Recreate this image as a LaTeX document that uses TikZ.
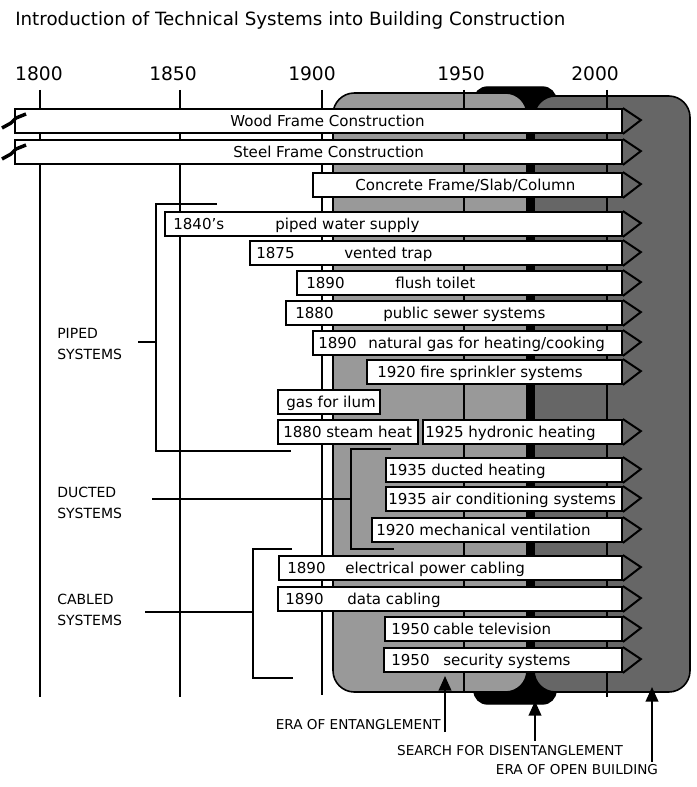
\documentclass[tikz,border=0pt]{standalone}
\usepackage{fontspec}
\setmainfont{DejaVu Sans}
\usetikzlibrary{arrows.meta}
\definecolor{lgrey}{RGB}{153,153,153}
\definecolor{dgrey}{RGB}{102,102,102}
\newcommand\tbar[4]{\node[tbar, minimum width={(#3-#2)*0.75pt}] (#1) at (#2,#4) {};}
\newcommand\tchev[1]{\draw[chev] (#1.north east) -- ++(18,12) -- (#1.south east);}
\newcommand\breakmark[1]{\draw[line width=2.6pt] (2,#1+7) -- (11,#1+2) -- (16,#1-3) -- (26,#1-7);}
\begin{document}
\begin{tikzpicture}[x=0.75pt,y=-0.75pt,
  tbar/.style={draw=black,fill=white,line width=1.4pt,rectangle,inner sep=0pt,minimum height=18pt,anchor=west},
  chev/.style={draw=black,line width=1.5pt,line join=miter},
  btxt/.style={anchor=west,inner sep=0pt,font=\fontsize{11.3}{13}\selectfont,text height=8.2pt,text depth=0pt},
  ylab/.style={font=\fontsize{14}{16}\selectfont,inner sep=0pt},
  grid/.style={line width=2pt},
  brack/.style={line width=1.4pt},
  slab/.style={anchor=west,align=left,inner sep=0pt,font=\fontsize{10.5}{16}\selectfont},
  blab/.style={inner sep=0pt,font=\fontsize{10.2}{12}\selectfont},
  earrow/.style={line width=1.4pt,-{Triangle[length=11pt,width=9.5pt]}}]
\useasboundingbox (0,0) rectangle (696,787);
% title
\node[anchor=base west,inner sep=0pt,font=\fontsize{13.7}{16}\selectfont] (title) at (15,26) {Introduction of Technical Systems into Building Construction};
% backgrounds
\draw[fill=black,line width=1pt,rounded corners=10pt] (474,87) rectangle (556,704);
\draw[fill=lgrey,line width=1.2pt,rounded corners=16pt] (333,93) rectangle (527,692);
\draw[fill=dgrey,line width=1.2pt,rounded corners=16pt] (534,96) rectangle (690,692);
% year labels and grid
\node[ylab] (y1800) at (39,74) {1800};
\node[ylab] (y1850) at (173,74) {1850};
\node[ylab] (y1900) at (312,74) {1900};
\node[ylab] (y1950) at (461,74) {1950};
\node[ylab] (y2000) at (595,74) {2000};
\draw[grid] (40,90) -- (40,697);
\draw[grid] (180,90) -- (180,697);
\draw[grid] (322,90) -- (322,695);
\draw[grid] (464,90) -- (464,693);
\draw[grid] (607,90) -- (607,697);
% brackets
\draw[brack] (217,204) -| (156,451) -- (291,451);
\draw[brack] (138,342) -- (156,342);
\draw[brack] (391,449) -| (351,549) -- (394,549);
\draw[brack] (152,499) -- (351,499);
\draw[brack] (292,549) -| (253,678) -- (293,678);
\draw[brack] (145,612) -- (253,612);
% side labels
\node[slab] (piped) at (57,344) {PIPED\\SYSTEMS};
\node[slab] (ducted) at (57,503) {DUCTED\\SYSTEMS};
\node[slab] (cabled) at (57,610) {CABLED\\SYSTEMS};
% bars
\tbar{wood}{14}{621}{121}\tchev{wood}
\tbar{steel}{14}{621}{152}\tchev{steel}
\tbar{concrete}{312}{621}{185}\tchev{concrete}
\tbar{water}{164}{621}{224}\tchev{water}
\tbar{trap}{249}{621}{253}\tchev{trap}
\tbar{toilet}{296}{621}{283}\tchev{toilet}
\tbar{sewer}{285}{621}{313}\tchev{sewer}
\tbar{gas}{312}{621}{343}\tchev{gas}
\tbar{sprink}{366}{621}{372}\tchev{sprink}
\tbar{ilum}{277}{379}{402}
\tbar{steam}{277}{417}{432}
\tbar{hydro}{422}{621}{432}\tchev{hydro}
\tbar{duct}{385}{621}{470}\tchev{duct}
\tbar{aircon}{385}{621}{499}\tchev{aircon}
\tbar{mech}{371}{621}{530}\tchev{mech}
\tbar{elec}{278}{621}{568}\tchev{elec}
\tbar{data}{277}{621}{599}\tchev{data}
\tbar{ctv}{384}{621}{629}\tchev{ctv}
\tbar{sec}{383}{621}{660}\tchev{sec}
\breakmark{121}
\breakmark{152}
% bar texts
\node[btxt] (t-wood) at (230,121) {Wood Frame Construction};
\node[btxt] (t-steel) at (233,152) {Steel Frame Construction};
\node[btxt] (t-conc) at (355,185) {Concrete Frame/Slab/Column};
\node[btxt] (t-water-y) at (173,224) {1840{\char"0027}s};
\node[btxt] (t-water) at (275,224) {piped water supply};
\node[btxt] (t-trap-y) at (256,253) {1875};
\node[btxt] (t-trap) at (344,253) {vented trap};
\node[btxt] (t-toilet-y) at (306,283) {1890};
\node[btxt] (t-toilet) at (395,283) {flush toilet};
\node[btxt] (t-sewer-y) at (295,313) {1880};
\node[btxt] (t-sewer) at (383,313) {public sewer systems};
\node[btxt] (t-gas-y) at (318,343) {1890};
\node[btxt] (t-gas) at (368,343) {natural gas for heating/cooking};
\node[btxt] (t-sprink) at (377,372) {1920 fire sprinkler systems};
\node[btxt] (t-ilum) at (286,402) {gas for ilum};
\node[btxt] (t-steam) at (283,432) {1880 steam heat};
\node[btxt] (t-hydro) at (425,432) {1925 hydronic heating};
\node[btxt] (t-duct) at (388,470) {1935 ducted heating};
\node[btxt] (t-aircon) at (388,499) {1935 air conditioning systems};
\node[btxt] (t-mech) at (376,530) {1920 mechanical ventilation};
\node[btxt] (t-elec-y) at (287,568) {1890};
\node[btxt] (t-elec) at (345,568) {electrical power cabling};
\node[btxt] (t-data-y) at (285,599) {1890};
\node[btxt] (t-data) at (347,599) {data cabling};
\node[btxt] (t-ctv-y) at (391,629) {1950};
\node[btxt] (t-ctv) at (433,629) {cable television};
\node[btxt] (t-sec-y) at (391,660) {1950};
\node[btxt] (t-sec) at (443,660) {security systems};
% era labels and arrows
\node[blab,anchor=east] (ent) at (441,725) {ERA OF ENTANGLEMENT};
\node[blab] (dis) at (510,751) {SEARCH FOR DISENTANGLEMENT};
\node[blab] (open) at (577,770) {ERA OF OPEN BUILDING};
\coordinate (entBase) at (445,732);
\coordinate (entTip) at (445,676);
\coordinate (disBase) at (535,741);
\coordinate (disTip) at (535,701);
\coordinate (openBase) at (652,762);
\coordinate (openTip) at (652,687);
\draw[earrow] (entBase) -- (entTip);
\draw[earrow] (disBase) -- (disTip);
\draw[earrow] (openBase) -- (openTip);
\end{tikzpicture}
\end{document}
